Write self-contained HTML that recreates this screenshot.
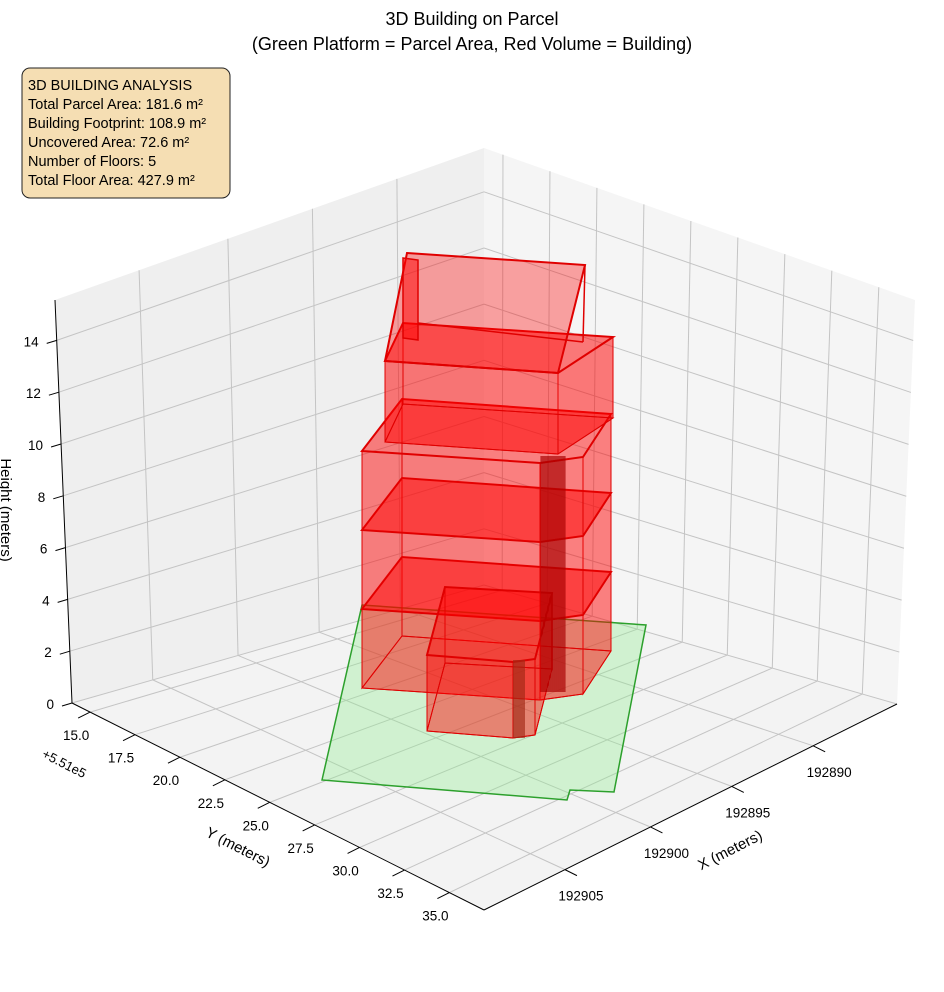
<!DOCTYPE html><html><head><meta charset="utf-8"><style>body{margin:0;background:#fff}svg{display:block}text{font-family:"Liberation Sans",sans-serif}</style></head><body>
<svg id="s" width="944" height="992" xmlns="http://www.w3.org/2000/svg">
<text x="472" y="25" font-size="18" text-anchor="middle">3D Building on Parcel</text>
<text x="472" y="50" font-size="18" text-anchor="middle">(Green Platform = Parcel Area, Red Volume = Building)</text>
</svg>
<script>
var s=document.getElementById('s'),NS='http://www.w3.org/2000/svg';
function el(t,a,txt){var e=document.createElementNS(NS,t);for(var k in a)e.setAttribute(k,a[k]);if(txt!=null)e.textContent=txt;s.appendChild(e);return e;}
function P(a){return a.map(function(p){return p[0]+','+p[1]}).join(' ');}
function L(a,b,t){return [a[0]+(b[0]-a[0])*t,a[1]+(b[1]-a[1])*t];}
var A=[72,703],B=[484,585],C=[897,704],D=[484,910],At=[55,300],Bt=[484,148],Ct=[915,300];
el('polygon',{points:P([A,B,Bt,At]),fill:'#efefef'});
el('polygon',{points:P([B,C,Ct,Bt]),fill:'#f5f5f5'});
el('polygon',{points:P([A,B,C,D]),fill:'#f3f3f3'});
var g={stroke:'#c4c4c4','stroke-width':1,fill:'none'};
function line(a,b,st){var o={x1:a[0],y1:a[1],x2:b[0],y2:b[1]};for(var k in st)o[k]=st[k];return el('line',o);}
var xf=[0.196,0.403,0.600,0.797];
var yf=[];for(var k=0;k<9;k++)yf.push(0.044+0.109*k);
var zmax=15.56;
xf.forEach(function(f){var t=f;var a=L(A,B,t),b=L(At,Bt,t);line(a,b,g);line(L(D,C,t),a,g);});
yf.forEach(function(t){var a=L(B,C,t),b=L(Bt,Ct,t);line(a,b,g);line(L(A,D,t),a,g);});
for(var z=0;z<=14;z+=2){var t=z/zmax;var l=L(A,At,t),bk=L(B,Bt,t),r=L(C,Ct,t);line(l,bk,g);line(bk,r,g);
 line(l,[l[0]-10,l[1]+3],{stroke:'#000','stroke-width':1});
 el('text',{x:l[0]-18,y:l[1]+6,'font-size':13.5,'text-anchor':'end'},String(z));}
line(A,At,{stroke:'#000','stroke-width':1});line(A,D,{stroke:'#000','stroke-width':1});line(D,C,{stroke:'#000','stroke-width':1});
var yl=['15.0','17.5','20.0','22.5','25.0','27.5','30.0','32.5','35.0'];
yf.forEach(function(t,i){var p=L(A,D,t);line(p,[p[0]-12,p[1]+6],{stroke:'#000','stroke-width':1});el('text',{x:p[0]-14,y:p[1]+28,'font-size':13.5,'text-anchor':'middle'},yl[i]);});
var xl=['192905','192900','192895','192890'];
xf.forEach(function(t,i){var p=L(D,C,t);line(p,[p[0]+12,p[1]+6],{stroke:'#000','stroke-width':1});el('text',{x:p[0]+16,y:p[1]+31,'font-size':13.5,'text-anchor':'middle'},xl[i]);});
el('text',{x:64,y:768,'font-size':13,'text-anchor':'middle',transform:'rotate(27 64 764)'},'+5.51e5');
el('text',{x:238,y:852,'font-size':15,'text-anchor':'middle',transform:'rotate(27 238 847)'},'Y (meters)');
el('text',{x:730,y:855,'font-size':15,'text-anchor':'middle',transform:'rotate(-27 730 850)'},'X (meters)');
el('text',{x:0,y:510,'font-size':15,'text-anchor':'middle',transform:'rotate(90 0 510)',dy:'-1'},'Height (meters)');
el('polygon',{points:'322,780 362,605 646,625 614,792 570,790 567,800',fill:'rgba(144,238,144,0.35)',stroke:'#2ca02c','stroke-width':1.5});
function prism(base,h,sw,op){var top=base.map(function(p){return [p[0],p[1]-h]});
 var f='rgba(255,0,0,'+op+')';
 el('polygon',{points:P(base),fill:f,stroke:'#d40000','stroke-width':1});
 for(var i=0;i<base.length;i++){var j=(i+1)%base.length;
  el('polygon',{points:P([base[i],base[j],top[j],top[i]]),fill:f,stroke:'#e00000','stroke-width':1});}
 el('polygon',{points:P(top),fill:f,stroke:'#e00000','stroke-width':sw});}
var mb=[[362,688],[540,700],[583,694],[611,651],[402,636]];
for(var k=0;k<3;k++){prism(mb.map(function(p){return [p[0],p[1]-79*k]}),79,2,0.28);}
prism([[427,731],[513,738],[535,735],[552,669],[445,663]],76,2,0.26);
prism([[385,442],[558,454],[613,418],[403,404]],81,2,0.3);
el('polygon',{points:'407,253 585,265 558,373 385,361',fill:'rgba(255,0,0,0.35)',stroke:'#e00000','stroke-width':2});
el('polygon',{points:'403,258 418,260 418,340 403,338',fill:'rgba(255,0,0,0.5)',stroke:'#e00000','stroke-width':1.5});
line([418,323],[583,342],{stroke:'#e00000','stroke-width':1.5});line([585,265],[583,342],{stroke:'#e00000','stroke-width':1.5});
el('rect',{x:541,y:456,width:24,height:236,fill:'rgba(180,0,0,0.45)'});
for(var x=541;x<=565;x+=2)line([x,456],[x,692],{stroke:'#a00000','stroke-width':0.8});
el('rect',{x:513,y:660,width:12,height:78,fill:'rgba(160,40,20,0.65)'});
el('rect',{x:22,y:68,width:208,height:130,rx:8,fill:'#f5deb3',stroke:'#222','stroke-width':1});
['3D BUILDING ANALYSIS','Total Parcel Area: 181.6 m²','Building Footprint: 108.9 m²','Uncovered Area: 72.6 m²','Number of Floors: 5','Total Floor Area: 427.9 m²'].forEach(function(t,i){el('text',{x:28,y:90+19*i,'font-size':14.5},t);});
</script>
</body></html>
